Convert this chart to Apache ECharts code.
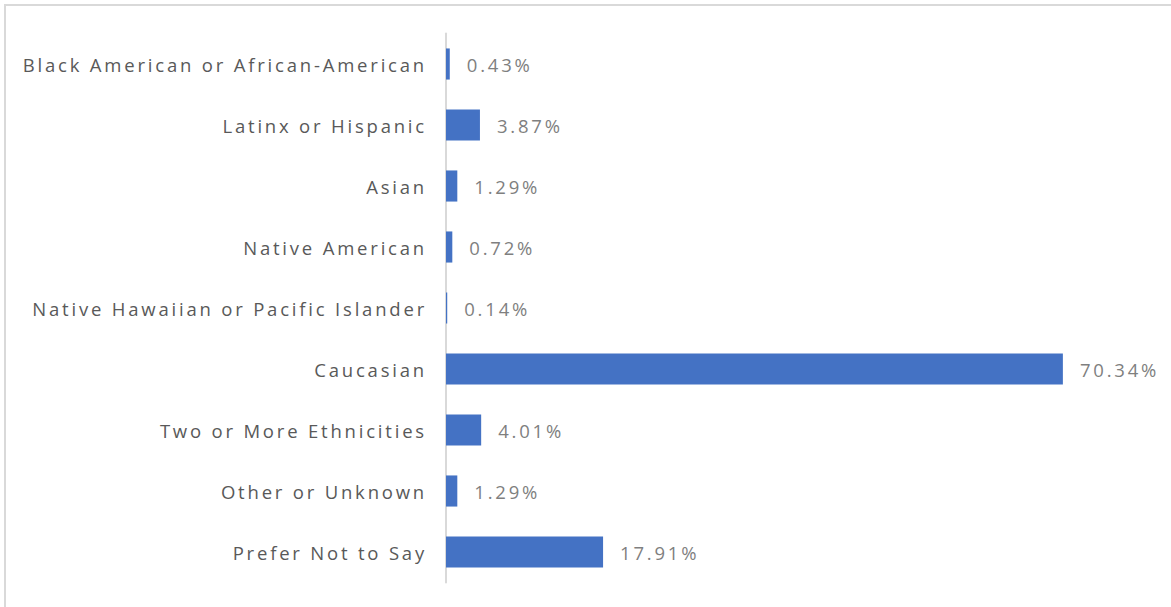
<!DOCTYPE html>
<html>
<head>
<meta charset="utf-8">
<script src="https://cdn.jsdelivr.net/npm/echarts@6/dist/echarts.min.js"></script>
<style>
  html, body { margin: 0; padding: 0; background: #fff; }
  #chart { width: 1171px; height: 607px; }
  #chart svg text { letter-spacing: 2.8px; }
</style>
</head>
<body>
<div id="chart"></div>
<script>
// Respondent ethnicity breakdown (percent of respondents)
const categories = [
  'Black American or African-American',
  'Latinx or Hispanic',
  'Asian',
  'Native American',
  'Native Hawaiian or Pacific Islander',
  'Caucasian',
  'Two or More Ethnicities',
  'Other or Unknown',
  'Prefer Not to Say'
];
const percentages = [0.43, 3.87, 1.29, 0.72, 0.14, 70.34, 4.01, 1.29, 17.91];

const chart = echarts.init(document.getElementById('chart'), null, { renderer: 'svg' });

chart.setOption({
  animation: false,
  graphic: [{
    type: 'rect',
    shape: { x: 5, y: 5, width: 1300, height: 800 },
    style: { fill: 'none', stroke: '#d9d9d9', lineWidth: 2 },
    silent: true
  }],
  grid: { left: 446, top: 33.5, width: 701.6, height: 549, containLabel: false },
  xAxis: {
    type: 'value',
    min: 0,
    max: 80,
    show: false
  },
  yAxis: {
    type: 'category',
    inverse: true,
    data: categories,
    axisLine: { show: true, lineStyle: { color: '#d9d9d9', width: 2 } },
    axisTick: { show: false },
    axisLabel: {
      margin: 19,
      color: '#595959',
      fontFamily: 'Open Sans',
      fontSize: 18.5
    }
  },
  series: [{
    type: 'bar',
    data: percentages,
    barWidth: '51%',
    itemStyle: { color: '#4472C4' },
    label: {
      show: true,
      position: 'right',
      distance: 17,
      color: '#7f7f7f',
      fontFamily: 'Open Sans',
      fontSize: 18.5,
      formatter: p => p.value.toFixed(2) + '%'
    }
  }]
});
</script>
</body>
</html>
